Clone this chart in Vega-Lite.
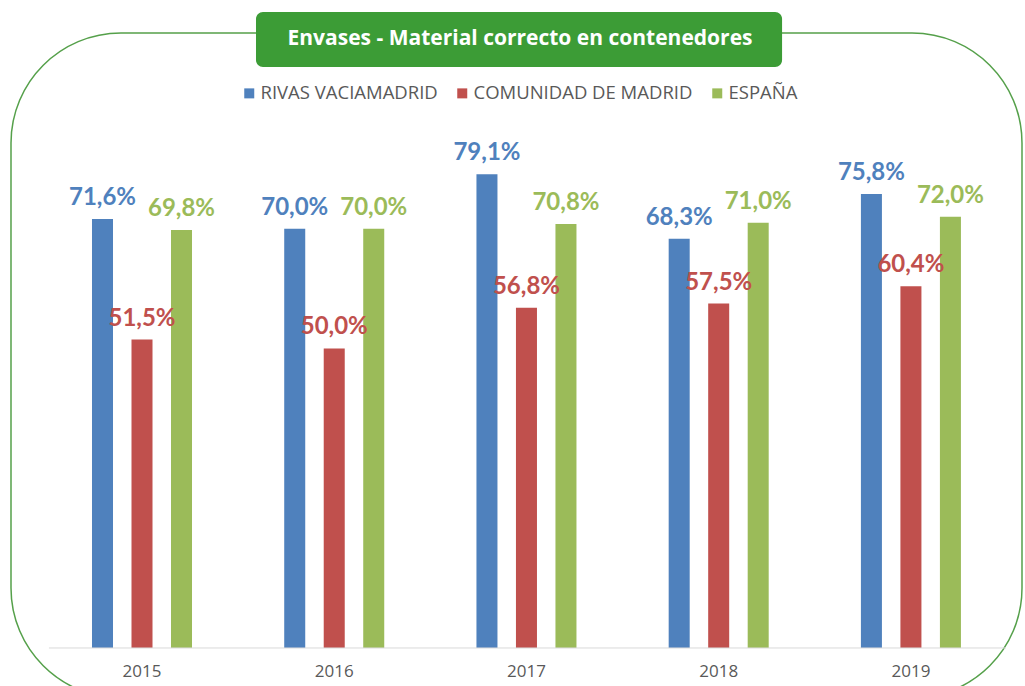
{
  "$schema": "https://vega.github.io/schema/vega-lite/v6.json",
  "autosize": {"type": "none"},
  "padding": {"left": 11, "top": 33, "right": 3, "bottom": -12},
  "width": 1011,
  "height": 665,
  "background": "white",
  "config": {
    "locale": {"number": {"decimal": ",", "thousands": ".", "grouping": [3], "currency": ["", " €"]}},
    "view": {"stroke": "#55a04a", "strokeWidth": 1.5, "cornerRadius": 110, "fill": null},
    "font": "Open Sans"
  },
  "data": {
    "values": [
      {"year": "2015", "serie": "RIVAS VACIAMADRID", "value": 0.716},
      {"year": "2015", "serie": "COMUNIDAD DE MADRID", "value": 0.515},
      {"year": "2015", "serie": "ESPAÑA", "value": 0.698},
      {"year": "2016", "serie": "RIVAS VACIAMADRID", "value": 0.700},
      {"year": "2016", "serie": "COMUNIDAD DE MADRID", "value": 0.500},
      {"year": "2016", "serie": "ESPAÑA", "value": 0.700},
      {"year": "2017", "serie": "RIVAS VACIAMADRID", "value": 0.791},
      {"year": "2017", "serie": "COMUNIDAD DE MADRID", "value": 0.568},
      {"year": "2017", "serie": "ESPAÑA", "value": 0.708},
      {"year": "2018", "serie": "RIVAS VACIAMADRID", "value": 0.683},
      {"year": "2018", "serie": "COMUNIDAD DE MADRID", "value": 0.575},
      {"year": "2018", "serie": "ESPAÑA", "value": 0.710},
      {"year": "2019", "serie": "RIVAS VACIAMADRID", "value": 0.758},
      {"year": "2019", "serie": "COMUNIDAD DE MADRID", "value": 0.604},
      {"year": "2019", "serie": "ESPAÑA", "value": 0.720}
    ]
  },
  "layer": [
    {
      "mark": {"type": "bar"},
      "encoding": {
        "x": {
          "field": "year", "type": "nominal",
          "scale": {"paddingInner": 0.0687, "paddingOuter": 0.164, "align": 0.658},
          "axis": {
            "title": null, "offset": -50, "domain": false,
            "ticks": false, "grid": false, "labelAngle": 0, "labelPadding": 15,
            "labelFont": "Open Sans", "labelFontSize": 17, "labelColor": "#595959"
          }
        },
        "xOffset": {
          "field": "serie", "type": "nominal",
          "sort": ["RIVAS VACIAMADRID", "COMUNIDAD DE MADRID", "ESPAÑA"],
          "scale": {"paddingInner": 0.468, "paddingOuter": 1}
        },
        "y": {
          "field": "value", "type": "quantitative",
          "scale": {"domain": [-0.0835, 1.0267], "nice": false, "zero": false},
          "axis": null
        },
        "y2": {"datum": 0},
        "color": {
          "field": "serie", "type": "nominal",
          "scale": {"domain": ["RIVAS VACIAMADRID", "COMUNIDAD DE MADRID", "ESPAÑA"], "range": ["#4F81BD", "#C0504D", "#9BBB59"]},
          "legend": {
            "title": null, "orient": "none", "legendX": 229, "legendY": 51,
            "direction": "horizontal", "symbolType": "square", "symbolSize": 100,
            "symbolStrokeWidth": 0, "labelFont": "Open Sans", "labelFontSize": 18.5,
            "labelColor": "#595959", "columnPadding": 15, "labelOffset": 2, "labelLimit": 400
          }
        }
      }
    },
    {
      "data": {"values": [{"line": "base"}]},
      "mark": {"type": "rule", "color": "#d9d9d9", "strokeWidth": 1},
      "encoding": {
        "x": {"datum": "2015", "bandPosition": -0.02},
        "x2": {"datum": "2019", "bandPosition": 1.031},
        "y": {"datum": 0}
      }
    },
    {
      "mark": {"type": "text", "dy": -14, "baseline": "alphabetic", "font": "Lato", "fontWeight": "bold", "fontSize": 24},
      "encoding": {
        "x": {"field": "year", "type": "nominal"},
        "xOffset": {"field": "serie", "type": "nominal", "sort": ["RIVAS VACIAMADRID", "COMUNIDAD DE MADRID", "ESPAÑA"]},
        "y": {"field": "value", "type": "quantitative"},
        "text": {"field": "value", "type": "quantitative", "format": ".1%"},
        "color": {"field": "serie", "type": "nominal", "legend": null}
      }
    },
    {
      "data": {"values": [{"t": "Envases - Material correcto en contenedores"}]},
      "mark": {"type": "rect", "fill": "#3c9c36", "cornerRadius": 7},
      "encoding": {
        "x": {"datum": "2016", "bandPosition": 0.063},
        "x2": {"datum": "2018", "bandPosition": 0.854},
        "y": {"datum": 1.0618},
        "y2": {"datum": 0.970}
      }
    },
    {
      "data": {"values": [{"t": "Envases - Material correcto en contenedores"}]},
      "mark": {"type": "text", "fill": "white", "font": "Open Sans", "fontWeight": "bold", "fontSize": 21, "baseline": "middle", "align": "center"},
      "encoding": {
        "x": {"datum": "2017", "bandPosition": 0.464},
        "y": {"datum": 1.0159},
        "text": {"field": "t", "type": "nominal"}
      }
    }
  ]
}
